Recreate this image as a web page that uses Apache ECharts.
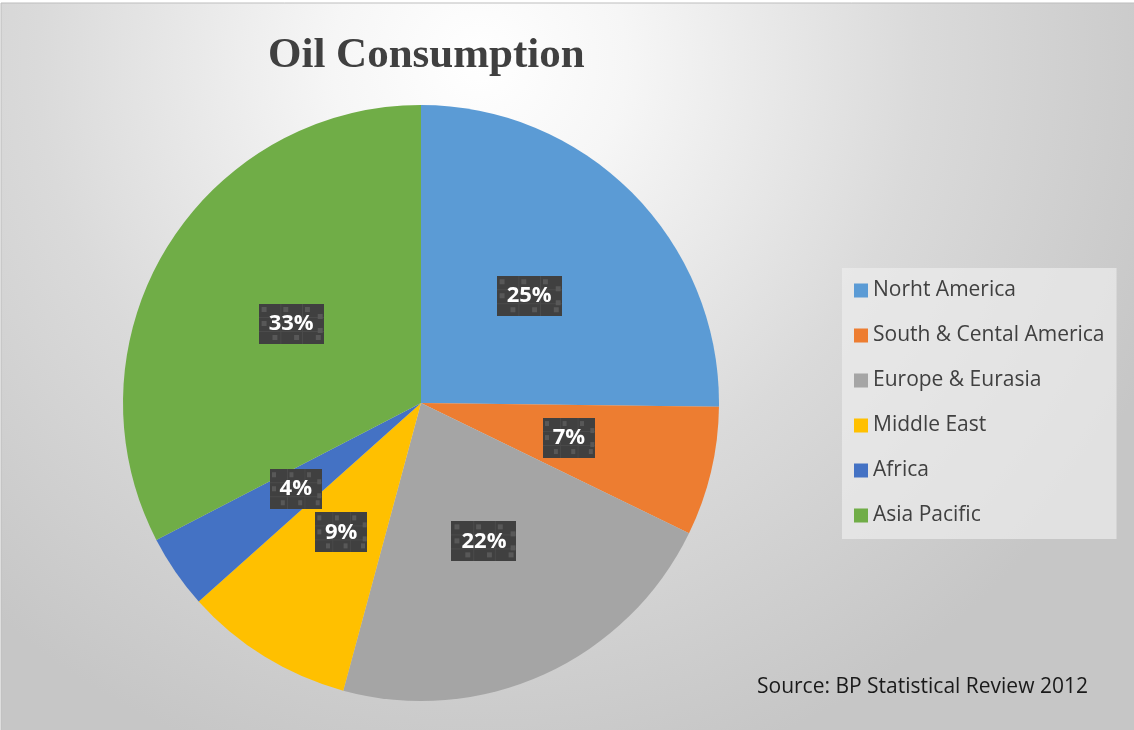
<!DOCTYPE html>
<html>
<head>
<meta charset="utf-8">
<script src="https://cdn.jsdelivr.net/npm/echarts@6/dist/echarts.min.js"></script>
<style>
  html, body { margin: 0; padding: 0; background: #ffffff; }
  #chart { width: 1134px; height: 730px; }
</style>
</head>
<body>
<div id="chart"></div>
<script>
// Oil consumption by region, share of world total (BP Statistical Review 2012)
const regions = ['Norht America', 'South & Cental America', 'Europe & Eurasia', 'Middle East', 'Africa', 'Asia Pacific'];
const shares = [25.2, 7.0, 22.0, 9.2, 4.0, 32.6];
const colors = ['#5B9BD5', '#ED7D31', '#A5A5A5', '#FFC000', '#4472C4', '#70AD47'];

// small checkered tile used behind the data labels
function labelTile() {
  const c = document.createElement('canvas');
  c.width = 66; c.height = 40;
  const g = c.getContext('2d');
  g.fillStyle = '#404040';
  g.fillRect(0, 0, 66, 40);
  g.fillStyle = '#4b4b4b';
  g.fillRect(22, 0, 1, 40); g.fillRect(44, 0, 1, 40);
  g.fillRect(0, 13, 66, 1); g.fillRect(0, 27, 66, 1);
  g.fillStyle = '#585858';
  [[3, 3], [25, 3], [47, 3], [60, 10], [3, 17], [60, 24], [14, 31], [36, 31], [58, 31]].forEach(function (p) {
    g.fillRect(p[0], p[1], 5, 5);
  });
  return c;
}

const chart = echarts.init(document.getElementById('chart'));
const tile = labelTile();

chart.setOption({
  backgroundColor: '#ffffff',
  graphic: [
    {
      type: 'rect',
      z: -10,
      silent: true,
      shape: { x: 1, y: 3, width: 1140, height: 735 },
      style: {
        stroke: '#bdbdbd',
        lineWidth: 1,
        fill: new echarts.graphic.RadialGradient(0.42, 0.08, 1.0, [
          { offset: 0, color: '#ffffff' },
          { offset: 0.2, color: '#f6f6f6' },
          { offset: 0.6, color: '#dadada' },
          { offset: 1, color: '#c6c6c6' }
        ])
      }
    },
    {
      type: 'text',
      left: 757,
      top: 677,
      style: {
        text: 'Source: BP Statistical Review 2012',
        font: '21px "Open Sans", sans-serif',
        fill: '#1a1a1a'
      }
    }
  ],
  title: {
    text: 'Oil Consumption',
    left: 263,
    top: 29,
    textStyle: {
      fontFamily: '"Liberation Serif", serif',
      fontWeight: 'bold',
      fontSize: 43,
      color: '#404040'
    }
  },
  legend: {
    orient: 'vertical',
    left: 842,
    top: 268,
    padding: [12, 12, 13, 12],
    backgroundColor: 'rgba(236,236,236,0.7)',
    itemWidth: 14,
    itemHeight: 14,
    itemGap: 24,
    icon: 'rect',
    data: regions,
    textStyle: {
      fontFamily: '"Open Sans", sans-serif',
      fontSize: 21,
      lineHeight: 21,
      color: '#404040'
    }
  },
  series: [{
    type: 'pie',
    center: [421, 403],
    radius: 298,
    startAngle: 90,
    clockwise: true,
    avoidLabelOverlap: false,
    animation: false,
    itemStyle: { borderWidth: 0 },
    label: {
      show: true,
      position: 'inside',
      formatter: function (p) { return Math.round(p.percent) + '%'; },
      color: '#ffffff',
      fontFamily: '"Open Sans", sans-serif',
      fontWeight: 'bold',
      fontSize: 22,
      lineHeight: 26,
      padding: [7, 10],
      backgroundColor: { image: tile },
      shadowColor: 'rgba(0,0,0,0.45)',
      shadowBlur: 6,
      shadowOffsetX: 3,
      shadowOffsetY: 3
    },
    labelLine: { show: false },
    emphasis: { disabled: true },
    data: regions.map(function (name, i) {
      return { name: name, value: shares[i], itemStyle: { color: colors[i] } };
    })
  }]
});
</script>
</body>
</html>
